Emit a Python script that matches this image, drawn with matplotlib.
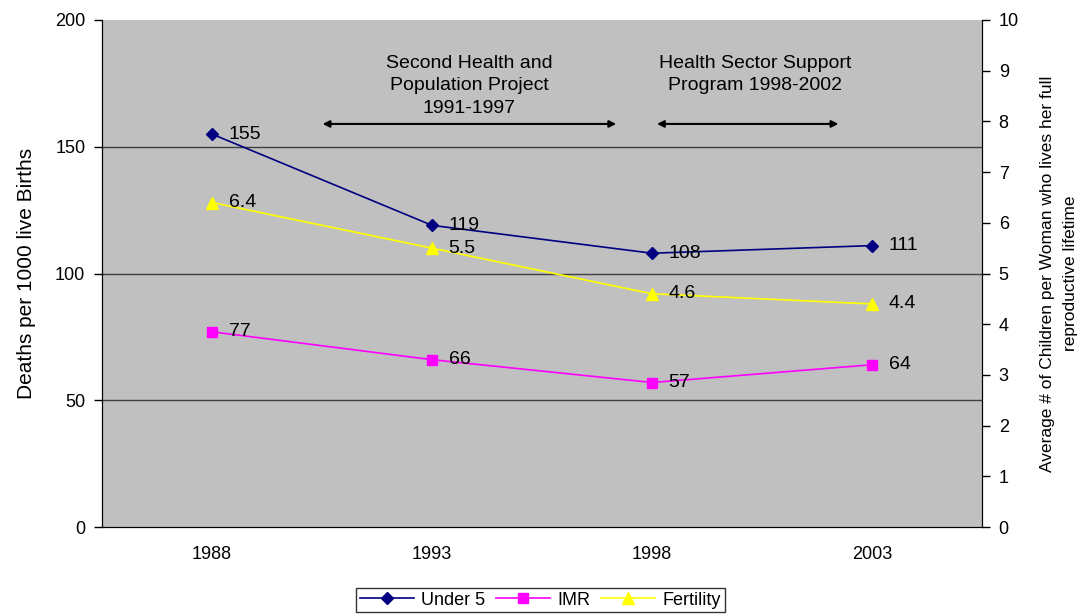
import numpy as np
import matplotlib
matplotlib.use('Agg')
import matplotlib.pyplot as plt

plt.rcParams['font.family'] = ['Liberation Sans', 'DejaVu Sans']

years = ['1988', '1993', '1998', '2003']
under5 = [155, 119, 108, 111]
imr = [77, 66, 57, 64]
fertility = [6.4, 5.5, 4.6, 4.4]

fig = plt.figure(figsize=(10.83, 6.15), dpi=100)
ax = fig.add_axes([102 / 1083, 1 - 527 / 615, 880 / 1083, 507 / 615])
ax2 = ax.twinx()

x = np.arange(len(years))
ax.set_facecolor('#C0C0C0')
ax.set_xlim(-0.5, len(years) - 0.5)
ax.set_ylim(0, 200)
ax.set_yticks([0, 50, 100, 150, 200])
ax.set_xticks(x)
ax.set_xticklabels(years)
ax.tick_params(axis='x', length=0, pad=14, labelsize=13)
ax.tick_params(axis='y', length=6, width=1, labelsize=13, pad=6)
for v in [50, 100, 150]:
    ax.axhline(v, color='#404040', lw=1, zorder=1)
ax.spines['top'].set_visible(False)
ax2.spines['top'].set_visible(False)
ax.set_ylabel('Deaths per 1000 live Births', fontsize=15, labelpad=14)

ax2.set_ylim(0, 10)
ax2.set_yticks(range(0, 11))
ax2.tick_params(axis='y', length=6, width=1, labelsize=13, pad=6)
ax2.set_ylabel('Average # of Children per Woman who lives her full\nreproductive lifetime',
               fontsize=12.5, labelpad=15, rotation=90, linespacing=1.7)

l1, = ax.plot(x, under5, color='#000080', marker='D', ms=6, lw=1.2, zorder=3, label='Under 5')
l2, = ax.plot(x, imr, color='#FF00FF', marker='s', ms=7, lw=1.2, zorder=3, label='IMR')
l3, = ax2.plot(x, fertility, color='#FFFF00', marker='^', ms=9, lw=1.2, zorder=3, label='Fertility')

for xi, v in zip(x, under5):
    ax.annotate(str(v), (xi, v), xytext=(12, 0), textcoords='offset points',
                va='center', ha='left', fontsize=14)
for xi, v in zip(x, imr):
    ax.annotate(str(v), (xi, v), xytext=(12, 0), textcoords='offset points',
                va='center', ha='left', fontsize=14)
for xi, v in zip(x, fertility):
    ax2.annotate(str(v), (xi, v), xytext=(12, 0), textcoords='offset points',
                 va='center', ha='left', fontsize=14)

# project periods
ax.annotate('', xy=(0.49, 159), xytext=(1.85, 159),
            arrowprops=dict(arrowstyle='<|-|>', color='black', lw=1.5, mutation_scale=10))
ax.annotate('', xy=(2.01, 159), xytext=(2.86, 159),
            arrowprops=dict(arrowstyle='<|-|>', color='black', lw=1.5, mutation_scale=10))
ax.text(1.17, 174, 'Second Health and\nPopulation Project\n1991-1997', ha='center', va='center',
        fontsize=14, linespacing=1.45)
ax.text(2.47, 178.5, 'Health Sector Support\nProgram 1998-2002', ha='center', va='center',
        fontsize=14, linespacing=1.45)

leg = fig.legend(handles=[l1, l2, l3], loc='center', bbox_to_anchor=(0.499, 0.024), ncol=3,
                 fontsize=13, frameon=True, fancybox=False, edgecolor='black',
                 handlelength=3.0, columnspacing=0.6, handletextpad=0.4, borderpad=0.2)
leg.get_frame().set_linewidth(1)

fig.savefig('out.png', dpi=100)
